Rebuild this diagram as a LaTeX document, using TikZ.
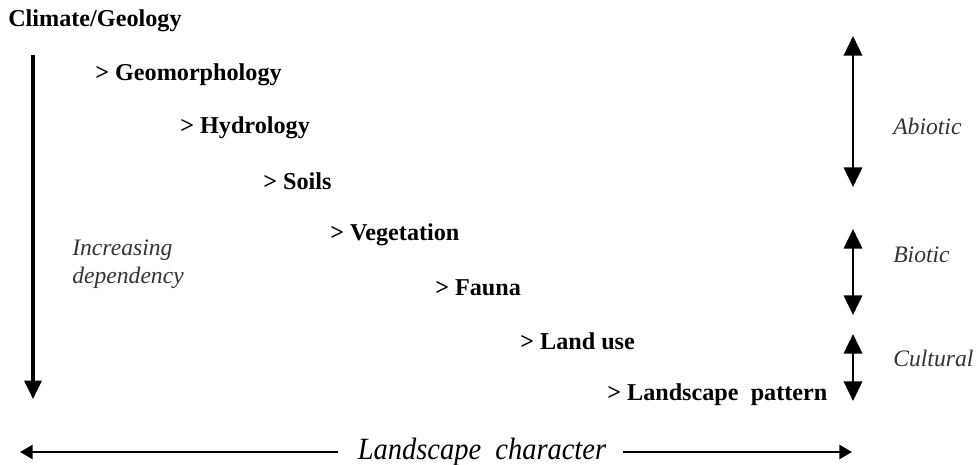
\documentclass[tikz,border=0pt]{standalone}
\usepackage{fontspec}
\setmainfont{Liberation Serif}
\usetikzlibrary{arrows.meta}
\tikzset{
	level/.style={anchor=west, inner sep=0pt, font=\fontsize{17.2}{19}\selectfont\bfseries},
	sidelabel/.style={anchor=west, inner sep=0pt, text=black!80, font=\fontsize{16.8}{20}\selectfont\itshape},
	deparrow/.style={-{Triangle[width=12pt,length=13pt]}, line width=2.2pt},
	rangearrow/.style={{Triangle[width=13pt,length=14pt]}-{Triangle[width=13pt,length=14pt]}, line width=2pt},
	chararrow/.style={-{Triangle[width=10pt,length=9pt]}, line width=1.6pt}
}

\begin{document}
\begin{tikzpicture}[x=0.025cm, y=-0.025cm]
		%%%%% START %%%%%
		\useasboundingbox (0, 0) rectangle (977, 465);
		
		% cascade of levels
		\node[level] (climate) at (8, 21) {Climate/Geology};
		\node[level] (geomorph) at (95, 75) {> Geomorphology};
		\node[level] (hydro) at (180, 128) {> Hydrology};
		\node[level] (soils) at (263, 181) {> Soils};
		\node[level] (veget) at (330, 235) {> Vegetation};
		\node[level] (fauna) at (435, 288) {> Fauna};
		\node[level] (landuse) at (520, 341) {> Land use};
		\node[level] (pattern) at (607, 395) {> Landscape\ \ pattern};
		
		% dependency arrow
		\coordinate (depTop) at (33, 55);
		\coordinate (depEnd) at (33, 399);
		\draw[deparrow] (depTop) -- (depEnd);
		\node[sidelabel, align=left] (depLabel) at (72, 264) {Increasing\\dependency};
		
		% abiotic / biotic / cultural ranges
		\coordinate (abioTop) at (853, 36);
		\coordinate (abioBot) at (853, 187);
		\coordinate (bioTop) at (853, 229);
		\coordinate (bioBot) at (853, 315);
		\coordinate (cultTop) at (853, 334);
		\coordinate (cultBot) at (853, 401);
		\draw[rangearrow] (abioTop) -- (abioBot);
		\draw[rangearrow] (bioTop) -- (bioBot);
		\draw[rangearrow] (cultTop) -- (cultBot);
		\node[sidelabel] (abiotic) at (893, 126) {Abiotic};
		\node[sidelabel] (biotic) at (893, 255) {Biotic};
		\node[sidelabel] (cultural) at (893, 358) {Cultural};
		
		% landscape character
		\node[inner sep=0pt, font=\fontsize{22}{26}\selectfont\itshape] (character) at (482, 452) {\scalebox{0.92}[1]{Landscape\ \ character}};
		\coordinate (charLeft) at (20, 452);
		\coordinate (charRight) at (852, 452);
		\draw[chararrow] ([xshift=-14pt]character.west |- charLeft) -- (charLeft);
		\draw[chararrow] ([xshift=12pt]character.east |- charRight) -- (charRight);
		
		%%%%% END %%%%%
	\end{tikzpicture}
\end{document}
